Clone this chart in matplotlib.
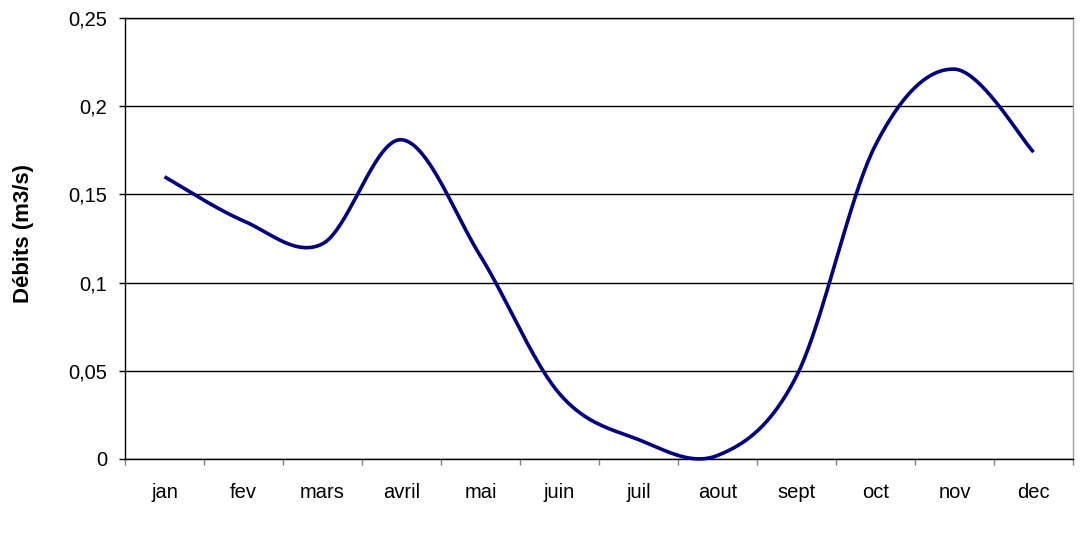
import numpy as np
import matplotlib
matplotlib.use("Agg")
import matplotlib.pyplot as plt

plt.rcParams['font.family'] = ['Liberation Sans', 'DejaVu Sans']

# Monthly mean discharge
months = ['jan', 'fev', 'mars', 'avril', 'mai', 'juin',
          'juil', 'aout', 'sept', 'oct', 'nov', 'dec']
debits = [0.160, 0.135, 0.122, 0.181, 0.115, 0.037,
          0.011, 0.002, 0.047, 0.178, 0.221, 0.174]
y_ticks = [0, 0.05, 0.1, 0.15, 0.2, 0.25]
y_tick_labels = ['0', '0,05', '0,1', '0,15', '0,2', '0,25']


def smooth(x, y, n=40):
    # Bezier curve through the points, Catmull-Rom style control points
    x = np.asarray(x, float)
    y = np.asarray(y, float)
    xs, ys = [], []
    for i in range(len(x) - 1):
        p0 = (x[i], y[i])
        p3 = (x[i + 1], y[i + 1])
        prev = (x[i - 1], y[i - 1]) if i > 0 else p0
        nxt = (x[i + 2], y[i + 2]) if i + 2 < len(x) else p3
        p1 = (p0[0] + (p3[0] - prev[0]) / 6, p0[1] + (p3[1] - prev[1]) / 6)
        p2 = (p3[0] - (nxt[0] - p0[0]) / 6, p3[1] - (nxt[1] - p0[1]) / 6)
        t = np.linspace(0, 1, n)
        a, b, c, d = (1 - t) ** 3, 3 * (1 - t) ** 2 * t, 3 * (1 - t) * t ** 2, t ** 3
        xs.append(a * p0[0] + b * p1[0] + c * p2[0] + d * p3[0])
        ys.append(a * p0[1] + b * p1[1] + c * p2[1] + d * p3[1])
    return np.concatenate(xs), np.concatenate(ys)


fig = plt.figure(figsize=(10.84, 5.33), dpi=100)
ax = fig.add_axes([125 / 1084, 1 - 459 / 533, (1073 - 125) / 1084, (459 - 18) / 533])

pos = np.arange(len(months))
sx, sy = smooth(pos, debits)
ax.plot(sx, sy, color='#000080', linewidth=2.6, solid_capstyle='butt', clip_on=False, zorder=3)

ax.set_xlim(-0.5, len(months) - 0.5)
ax.set_ylim(0, 0.25)

ax.set_yticks(y_ticks)
ax.set_yticklabels(y_tick_labels)
ax.yaxis.grid(True, color='black', linewidth=1)
ax.set_axisbelow(True)

# category boundaries get the tick marks, labels sit at the centres
ax.set_xticks(np.arange(-0.5, len(months), 1))
ax.set_xticklabels([])
ax.set_xticks(pos, minor=True)
ax.set_xticklabels(months, minor=True)
ax.tick_params(axis='x', which='major', length=4.5, color='#808080', width=1, direction='out')
ax.tick_params(axis='x', which='minor', length=0, pad=17, labelsize=14.5)
ax.tick_params(axis='y', length=4.5, width=1, direction='out', pad=8.5, labelsize=14.5)

for side in ['left', 'bottom', 'top']:
    ax.spines[side].set_color('black')
    ax.spines[side].set_linewidth(1)
ax.spines['right'].set_color('#a0a0a0')
ax.spines['right'].set_linewidth(1)

fig.text(24 / 1084, 1 - 234 / 533, 'Débits (m3/s)', rotation=90, fontsize=16,
         fontweight='bold', ha='center', va='center')

fig.savefig('out.png', dpi=100)
